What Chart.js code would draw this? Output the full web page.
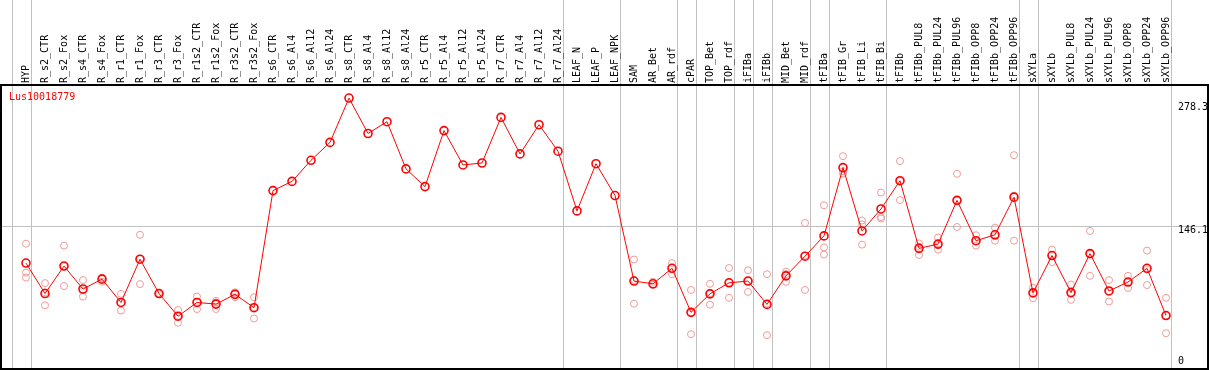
<!DOCTYPE html>
<html>
<head>
<meta charset="utf-8">
<script src="https://cdn.jsdelivr.net/npm/chart.js@4"></script>
<style>
    html, body { margin: 0; padding: 0; background: #fff; overflow: hidden; }
    .wrap { position: relative; width: 1209px; height: 373px; }
</style>
</head>
<body>
<div class="wrap"><canvas id="chart"></canvas></div>
<script>
// Sample names (x axis, drawn at the top)
const samples = ['HYP', 'R_s2_CTR', 'R_s2_Fox', 'R_s4_CTR', 'R_s4_Fox', 'R_r1_CTR', 'R_r1_Fox',
    'R_r3_CTR', 'R_r3_Fox', 'R_r1s2_CTR', 'R_r1s2_Fox', 'R_r3s2_CTR', 'R_r3s2_Fox',
    'R_s6_CTR', 'R_s6_Al4', 'R_s6_Al12', 'R_s6_Al24', 'R_s8_CTR', 'R_s8_Al4', 'R_s8_Al12', 'R_s8_Al24',
    'R_r5_CTR', 'R_r5_Al4', 'R_r5_Al12', 'R_r5_Al24', 'R_r7_CTR', 'R_r7_Al4', 'R_r7_Al12', 'R_r7_Al24',
    'LEAF_N', 'LEAF_P', 'LEAF_NPK', 'SAM', 'AR_Bet', 'AR_rdf', 'cPAR', 'TOP_Bet', 'TOP_rdf',
    'iFIBa', 'iFIBb', 'MID_Bet', 'MID_rdf', 'tFIBa', 'tFIB_Gr', 'tFIB_Li', 'tFIB_Bi', 'tFIBb',
    'tFIBb_PUL8', 'tFIBb_PUL24', 'tFIBb_PUL96', 'tFIBb_OPP8', 'tFIBb_OPP24', 'tFIBb_OPP96',
    'sXYLa', 'sXYLb', 'sXYLb_PUL8', 'sXYLb_PUL24', 'sXYLb_PUL96', 'sXYLb_OPP8', 'sXYLb_OPP24', 'sXYLb_OPP96'];

const geneName = 'Lus10018779';

// mean expression per sample
const meanValues = [107.8, 76.3, 104.7, 81.0, 91.2, 67.1, 111.8, 76.3, 52.9, 67.1, 65.4, 75.5, 61.7,
    182.7, 192.2, 214.0, 232.5, 278.3, 241.7, 253.9, 205.1, 186.8, 244.7, 209.2, 211.2,
    258.3, 220.6, 250.8, 223.4, 161.7, 210.5, 177.6,
    89.2, 86.4, 102.4, 56.9, 76.0, 87.4, 89.2, 65.1, 94.6, 114.9,
    135.9, 206.4, 141.0, 163.7, 192.9, 123.0, 127.4, 172.6, 130.9, 137.0, 175.9,
    77.0, 115.6, 77.3, 117.6, 79.0, 88.2, 102.4, 53.6];

// replicates (null = no replicate shown)
const rep1 = [127.8, 87.1, 125.8, 90.2, 92.5, 76.0, 137.0, 77.0, 59.3, 73.2, 68.8, 77.6, 72.5,
    null, null, null, null, null, null, null, null, null, null, null, null, null, null, null, null, null, null, null,
    111.5, 88.5, 107.8, 80.0, 86.4, 102.7, 100.4, 96.3, 98.9, 149.2,
    167.5, 218.3, 151.8, 180.7, 213.2, 128.1, 134.2, 200.0, 136.6, 144.4, 219.3,
    82.4, 121.7, 85.7, 141.0, 90.2, 94.6, 120.7, 71.9];
const rep2 = [97.9, 64.1, 84.1, 73.2, 88.5, 58.7, 86.1, 75.6, 46.1, 60.3, 60.3, 72.5, 50.5,
    null, null, null, null, null, null, null, null, null, null, null, null, null, null, null, null, null, null, null,
    65.8, 85.4, 96.3, 34.3, 64.8, 71.9, 78.0, 33.2, 88.5, 80.0,
    124.0, 202.8, 147.7, 155.3, 172.9, 116.2, 121.7, 145.1, 125.8, 130.9, 130.9,
    71.5, 108.8, 69.9, 94.6, 68.1, 82.1, 85.1, 35.3];
const rep3 = [92.8, 77.6, 104.7, 79.6, 92.6, 66.6, 112.3, 76.3, 53.3, 67.8, 67.1, 76.4, 62.1,
    null, null, null, null, null, null, null, null, null, null, null, null, null, null, null, null, null, null, null,
    90.3, 85.3, 103.1, 56.4, 76.8, 87.6, 89.2, 65.8, 96.4, 115.5,
    116.6, 200.3, 126.8, 153.8, 192.6, 124.7, 126.3, 172.7, 130.3, 135.7, 177.5,
    77.1, 116.3, 76.3, 117.2, 78.7, 87.9, 101.4, 53.6];

// value labels on the right side, and the gridline value
const axisLabels = [278.3, 146.1, 0];
const gridValue = 146.1;

// grey group separators sit just after these sample indexes
const separatorsAfter = [-1, 0, 28, 31, 34, 35, 37, 38, 39, 41, 42, 45, 52, 53, 60];

const FONT = '10px "DejaVu Sans Mono", monospace';

// frame, separators, sample names, gene name and right-side labels
const decorPlugin = {
    id: 'decor',
    beforeDatasetsDraw(chart) {
        const ctx = chart.ctx;
        const x = chart.scales.x;
        const y = chart.scales.y;
        const step = x.getPixelForValue(1) - x.getPixelForValue(0);
        const bottom = chart.height - 4;
        ctx.save();
        ctx.strokeStyle = '#c0c0c0';
        ctx.lineWidth = 1;
        separatorsAfter.forEach(i => {
            const px = Math.round(x.getPixelForValue(0) + (i + 0.25) * step) + 0.5;
            ctx.beginPath();
            ctx.moveTo(px, 0);
            ctx.lineTo(px, bottom);
            ctx.stroke();
        });
        const gy = Math.round(y.getPixelForValue(gridValue)) + 0.5;
        ctx.beginPath();
        ctx.moveTo(1, gy);
        ctx.lineTo(chart.width - 1, gy);
        ctx.stroke();

        // sample names, rotated, reading upward from just above the frame
        ctx.font = FONT;
        ctx.fillStyle = '#000';
        ctx.textAlign = 'left';
        ctx.textBaseline = 'middle';
        samples.forEach((s, i) => {
            ctx.save();
            ctx.translate(x.getPixelForValue(i), chart.chartArea.top - 2);
            ctx.rotate(-Math.PI / 2);
            ctx.fillText(s, 0, 0);
            ctx.restore();
        });
        ctx.restore();
    },
    afterDraw(chart) {
        const ctx = chart.ctx;
        const y = chart.scales.y;
        const top = chart.chartArea.top;
        const bottom = chart.height - 4;
        ctx.save();
        ctx.strokeStyle = '#000';
        ctx.lineWidth = 2;
        ctx.strokeRect(1, top, chart.width - 2, bottom - top);

        ctx.font = FONT;
        ctx.fillStyle = '#ff0000';
        ctx.textAlign = 'left';
        ctx.textBaseline = 'middle';
        ctx.fillText(geneName, 9, top + 12);

        ctx.fillStyle = '#000';
        axisLabels.forEach(v => {
            let py = Math.max(y.getPixelForValue(v) + 4, top + 22);
            py = Math.min(py, bottom - 8);
            ctx.fillText(v.toString(), chart.width - 31, py);
        });
        ctx.restore();
    }
};

const repStyle = {
    showLine: false,
    pointStyle: 'circle',
    pointRadius: 3.5,
    pointBorderWidth: 1,
    pointBorderColor: '#f09a9a',
    pointBackgroundColor: 'rgba(0,0,0,0)'
};

const chart = new Chart(document.getElementById('chart'), {
    type: 'line',
    data: {
        labels: samples,
        datasets: [
            {
                label: geneName,
                data: meanValues,
                borderColor: '#ff0000',
                borderWidth: 1,
                pointRadius: 4,
                pointBorderWidth: 1.6,
                pointBorderColor: '#ff0000',
                pointBackgroundColor: 'rgba(0,0,0,0)',
                tension: 0
            },
            { ...repStyle, data: rep1 },
            { ...repStyle, data: rep2 },
            { ...repStyle, data: rep3 }
        ]
    },
    options: {
        responsive: true,
        maintainAspectRatio: false,
        animation: false,
        layout: { padding: { left: 16.5, right: 33.5, top: 0, bottom: 1 } },
        plugins: {
            legend: { display: false },
            tooltip: { enabled: false }
        },
        scales: {
            x: {
                position: 'top',
                offset: true,
                grid: { display: false, drawTicks: false },
                border: { display: false },
                ticks: { display: false },
                afterFit(scale) { scale.height = 85; }
            },
            y: {
                display: false,
                min: 0,
                max: 291.8
            }
        }
    },
    plugins: [decorPlugin]
});
</script>
</body>
</html>
